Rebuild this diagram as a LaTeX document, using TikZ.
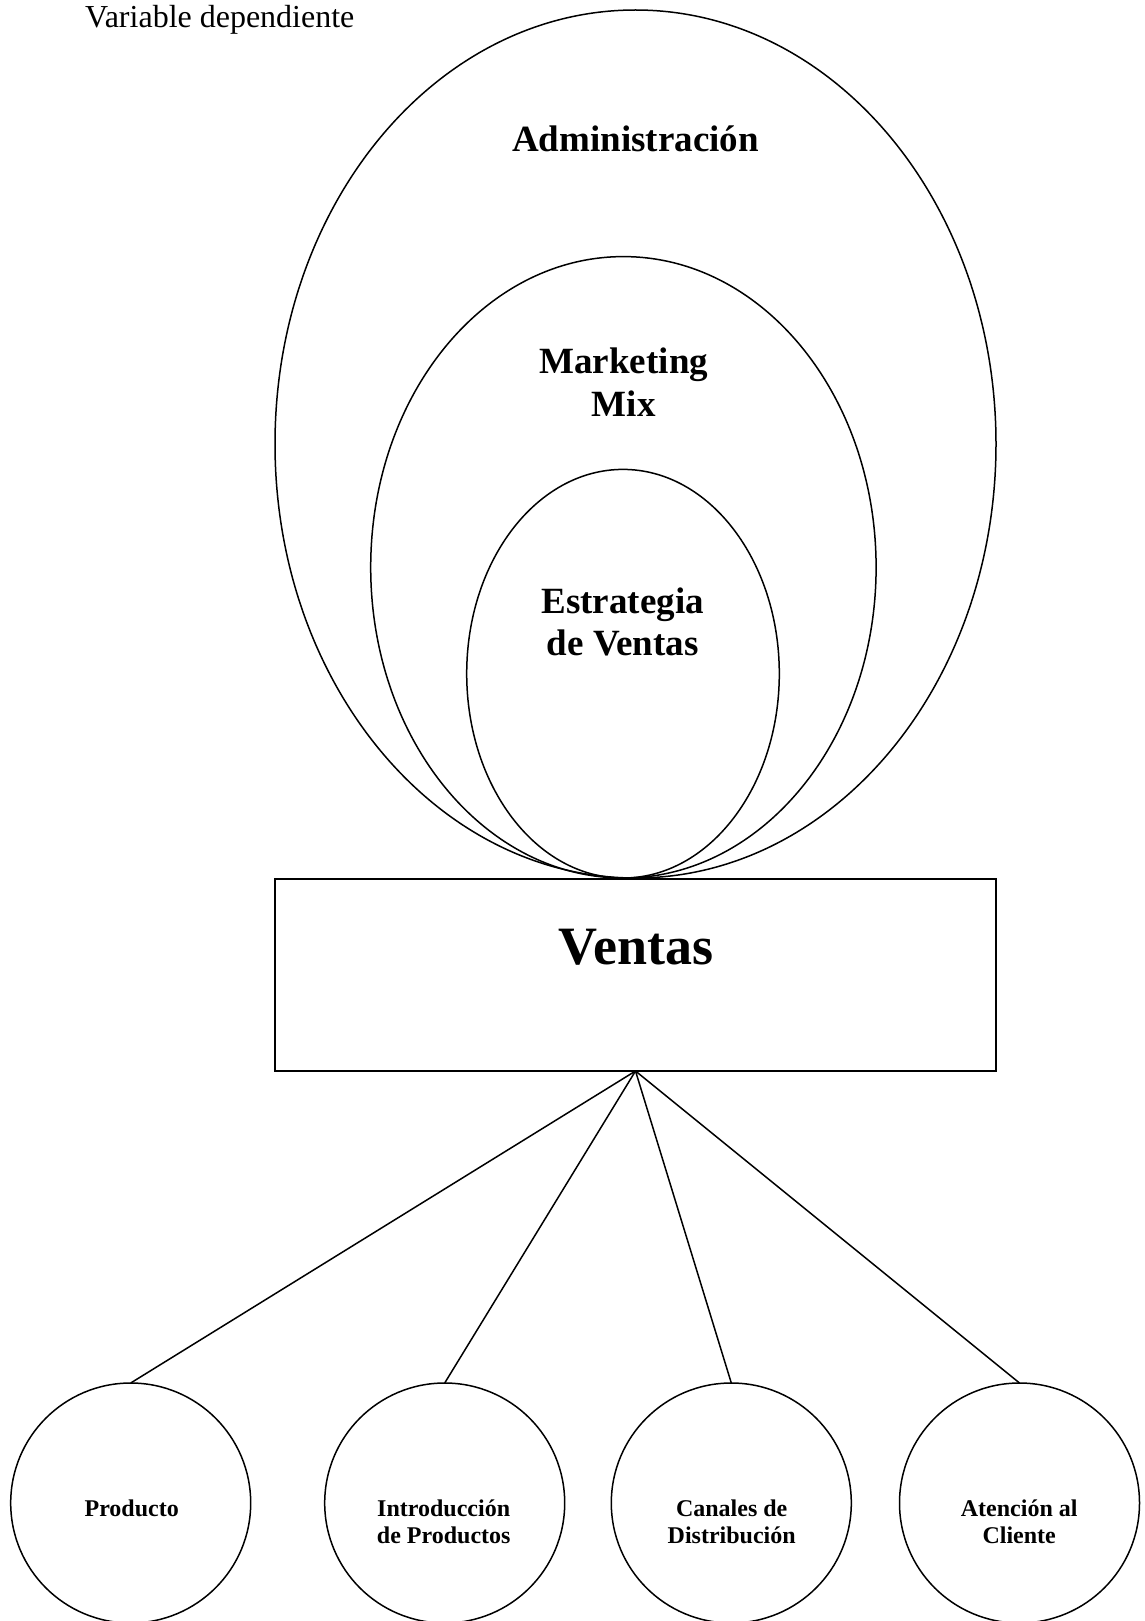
\documentclass[tikz,border=0pt]{standalone}
\usepackage{fontspec}
\setmainfont{Liberation Serif}
\usetikzlibrary{shapes.geometric}
\newcommand{\mytwolines}[2]{\vtop{\halign{\hfil##\hfil\cr #1\cr #2\cr}}}
\tikzset{
  lw/.style={line width=1.5pt},
  oval/.style={draw, lw, ellipse, inner sep=0pt, outer sep=0pt},
  bigbox/.style={draw, lw, rectangle, inner sep=0pt, outer sep=0pt, minimum width=721pt, minimum height=192pt},
  ring/.style={draw, lw, circle, inner sep=0pt, outer sep=0pt, minimum size=240pt},
  lbl/.style={anchor=base, inner sep=0pt, font=\fontsize{37}{43}\selectfont\bfseries},
  smalllbl/.style={anchor=base, inner sep=0pt, font=\fontsize{24}{26.7}\selectfont\bfseries},
  link/.style={lw}
}
\begin{document}
\begin{tikzpicture}[x=1pt,y=-1pt]
\useasboundingbox (0,0) rectangle (1144,1621);
% nested ovals
\node[oval, minimum width=721pt, minimum height=868pt] (adm) at (635.5,444) {};
\node[oval, minimum width=505.4pt, minimum height=621.4pt] (mkt) at (623.4,567.3) {};
\node[oval, minimum width=312.6pt, minimum height=408.6pt] (est) at (623,673.7) {};
% box
\node[bigbox] (box) at (635.5,975) {};
% circles
\node[ring] (c1) at (130.7,1503) {};
\node[ring] (c2) at (444.7,1503) {};
\node[ring] (c3) at (731.3,1503) {};
\node[ring] (c4) at (1019.5,1503) {};
% texts
\node[anchor=base west, inner sep=0pt, font=\fontsize{32}{38}\selectfont] (title) at (85,28) {Variable dependiente};
\node[lbl] (tadm) at (635.5,152) {Administración};
\node[lbl] (tmkt) at (623.8,373) {\mytwolines{Marketing}{Mix}};
\node[lbl, font=\fontsize{37}{42.3}\selectfont\bfseries] (test) at (622.7,613) {\mytwolines{Estrategia}{de Ventas}};
\node[anchor=base, inner sep=0pt, font=\fontsize{54}{60}\selectfont\bfseries] (tven) at (636,964) {Ventas};
\node[smalllbl] (t1) at (131.7,1516.7) {Producto};
\node[smalllbl] (t2) at (443.7,1516.7) {\mytwolines{Introducción}{de Productos}};
\node[smalllbl] (t3) at (731.7,1516.7) {\mytwolines{Canales de}{Distribución}};
\node[smalllbl] (t4) at (1019.2,1516.7) {\mytwolines{Atención al}{Cliente}};
% connectors
\draw[link] (box.south) -- (c1.north);
\draw[link] (box.south) -- (c2.north);
\draw[link] (box.south) -- (c3.north);
\draw[link] (box.south) -- (c4.north);
\end{tikzpicture}
\end{document}
